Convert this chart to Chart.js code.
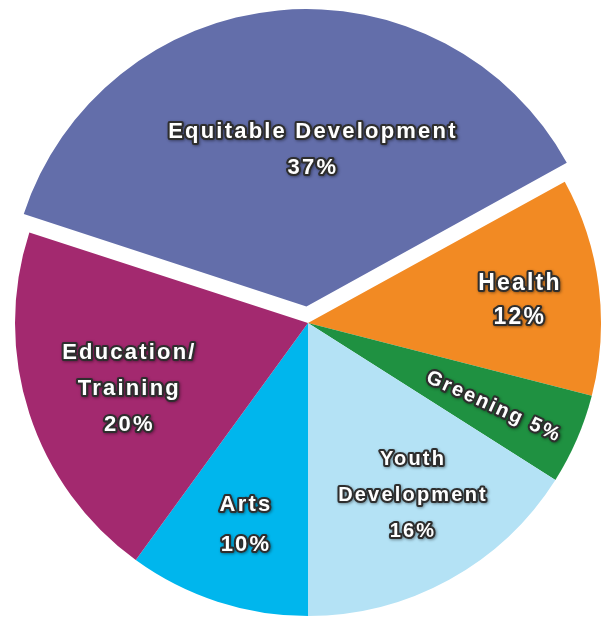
<!DOCTYPE html>
<html>
<head>
<meta charset="utf-8">
<script src="https://cdn.jsdelivr.net/npm/chart.js@4.4.1/dist/chart.umd.min.js"></script>
<style>
  html, body { margin: 0; padding: 0; background: #fff; }
  #wrap { width: 605px; height: 619px; position: relative; }
</style>
</head>
<body>
<div id="wrap"><canvas id="fundingPie"></canvas></div>
<script>
// Chart data
const categories = ['Equitable Development', 'Health', 'Greening', 'Youth Development', 'Arts', 'Education/Training'];
const shares = [37, 12, 5, 16, 10, 20];
// how each category name is broken into lines on the slice
const labelLines = [
  ['Equitable Development'],
  ['Health'],
  ['Greening'],
  ['Youth', 'Development'],
  ['Arts'],
  ['Education/', 'Training']
];

const sliceColors = ['#636eaa', '#f28a23', '#1f9141', '#b4e2f5', '#00b6ed', '#a3296f'];

// label placement: shift from slice bisector (deg), distance as part of radius, font size
const labelStyle = [
  { da: 8, r: 0.52, size: 22, lh: 36 },
  { da: 1.3, r: 0.727, size: 23, lh: 34 },
  { da: 0.9, r: 0.696, size: 20, lh: 30, inline: true },
  { da: -2.5, r: 0.69, size: 20, lh: 36 },
  { da: -0.9, r: 0.72, size: 22, lh: 40 },
  { da: -2.3, r: 0.65, size: 22, lh: 36 }
];

const sliceLabels = {
  id: 'sliceLabels',
  afterDatasetsDraw(chart) {
    const ctx = chart.ctx;
    const meta = chart.getDatasetMeta(0);
    meta.data.forEach((arc, i) => {
      const st = labelStyle[i];
      const circ = arc.endAngle - arc.startAngle;
      const half = (arc.startAngle + arc.endAngle) / 2;
      // same shift Chart.js applies to an offset arc
      const off = (arc.options.offset || 0) / 4;
      const fix = 1 - Math.sin(Math.min(Math.PI, circ));
      const shift = off * (1 + fix);
      const cx = arc.x + Math.cos(half) * shift;
      const cy = arc.y + Math.sin(half) * shift;
      const a = half + st.da * Math.PI / 180;
      const x = cx + Math.cos(a) * arc.outerRadius * st.r;
      const y = cy + Math.sin(a) * arc.outerRadius * st.r;

      let lines = labelLines[i].slice();
      const pct = shares[i] + '%';
      if (st.inline) lines[lines.length - 1] += ' ' + pct;
      else lines.push(pct);

      ctx.save();
      ctx.translate(x, y);
      if (st.inline) ctx.rotate(half + 0.02);
      ctx.font = 'bold ' + st.size + 'px "Liberation Sans", Arial, sans-serif';
      ctx.letterSpacing = '2.2px';
      ctx.textAlign = 'center';
      ctx.textBaseline = 'middle';
      ctx.lineJoin = 'round';
      const y0 = -(lines.length - 1) * st.lh / 2;
      lines.forEach((t, k) => {
        const ty = y0 + k * st.lh;
        ctx.shadowColor = 'rgba(0,0,0,0.4)';
        ctx.shadowBlur = 3;
        ctx.shadowOffsetX = 1;
        ctx.shadowOffsetY = 1;
        ctx.strokeStyle = '#2e2e2e';
        ctx.lineWidth = 4.2;
        ctx.strokeText(t, 0, ty);
        ctx.shadowColor = 'transparent';
        ctx.fillStyle = '#ffffff';
        ctx.fillText(t, 0, ty);
      });
      ctx.restore();
    });
  }
};

const config = {
  type: 'pie',
  data: {
    labels: categories,
    datasets: [{
      data: shares,
      backgroundColor: sliceColors,
      borderWidth: 0,
      offset: ctx => ctx.dataIndex === 0 ? 66 : 0,
      hoverOffset: 0,
      clip: false
    }]
  },
  options: {
    responsive: true,
    maintainAspectRatio: false,
    animation: false,
    events: [],
    rotation: -72,
    radius: 293,
    layout: { padding: { left: 11, right: 0, top: 27, bottom: 0 } },
    plugins: {
      legend: { display: false },
      tooltip: { enabled: false }
    }
  },
  plugins: [sliceLabels]
};

window.addEventListener('DOMContentLoaded', () => {
  new Chart(document.getElementById('fundingPie'), config);
});
</script>
</body>
</html>
